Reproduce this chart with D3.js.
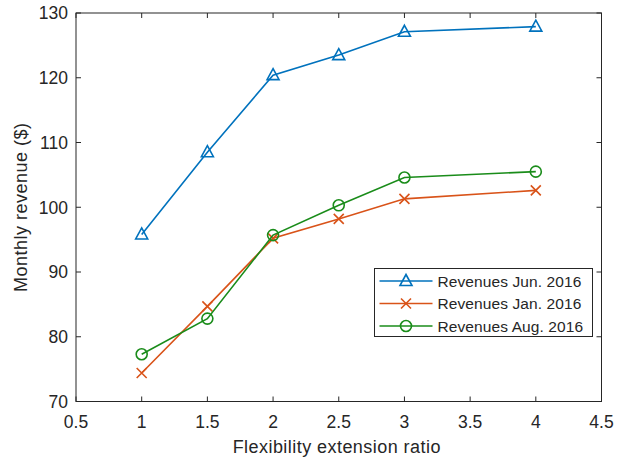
<!DOCTYPE html>
<html>
<head>
<meta charset="utf-8">
<title>Monthly revenue vs flexibility extension ratio</title>
<script src="https://d3js.org/d3.v7.min.js"></script>
<style>
  body { margin: 0; padding: 0; background: #fff; }
  text { font-family: "Liberation Sans", Arial, sans-serif; fill: #262626; }
</style>
</head>
<body>
<div id="chart"></div>
<script>
// data
var ratios = [1, 1.5, 2, 2.5, 3, 4];
var revJun = [95.8, 108.5, 120.4, 123.5, 127.1, 127.9];
var revJan = [74.4, 84.7, 95.2, 98.2, 101.3, 102.6];
var revAug = [77.3, 82.8, 95.7, 100.3, 104.6, 105.5];
var seriesNames = ["Revenues Jun. 2016", "Revenues Jan. 2016", "Revenues Aug. 2016"];
var xTicks = [0.5, 1, 1.5, 2, 2.5, 3, 3.5, 4, 4.5];
var yTicks = [70, 80, 90, 100, 110, 120, 130];

var width = 624, height = 458;
var margin = {top: 13, right: 22.5, bottom: 56.5, left: 76};

var svg = d3.select("#chart").append("svg")
  .attr("width", width)
  .attr("height", height);

var x = d3.scaleLinear().domain([0.5, 4.5]).range([margin.left, width - margin.right]);
var y = d3.scaleLinear().domain([70, 130]).range([height - margin.bottom, margin.top]);

var axisColor = "#262626";

// box
svg.append("rect")
  .attr("x", x(0.5)).attr("y", y(130))
  .attr("width", x(4.5) - x(0.5)).attr("height", y(70) - y(130))
  .attr("fill", "none").attr("stroke", axisColor).attr("stroke-width", 1);

// ticks (inside, on all four sides)
var tl = 5;
var g = svg.append("g").attr("stroke", axisColor).attr("stroke-width", 1);
xTicks.forEach(function(t) {
  g.append("line").attr("x1", x(t)).attr("x2", x(t)).attr("y1", y(70)).attr("y2", y(70) - tl);
  g.append("line").attr("x1", x(t)).attr("x2", x(t)).attr("y1", y(130)).attr("y2", y(130) + tl);
});
yTicks.forEach(function(t) {
  g.append("line").attr("x1", x(0.5)).attr("x2", x(0.5) + tl).attr("y1", y(t)).attr("y2", y(t));
  g.append("line").attr("x1", x(4.5)).attr("x2", x(4.5) - tl).attr("y1", y(t)).attr("y2", y(t));
});

// tick labels
svg.selectAll(".xt").data(xTicks).enter().append("text")
  .attr("x", function(d) { return x(d); })
  .attr("y", y(70) + 26.5)
  .attr("text-anchor", "middle")
  .style("font-size", "17.5px")
  .text(function(d) { return d; });
svg.selectAll(".yt").data(yTicks).enter().append("text")
  .attr("x", x(0.5) - 8)
  .attr("y", function(d) { return y(d); })
  .attr("dy", "0.36em")
  .attr("text-anchor", "end")
  .style("font-size", "17.5px")
  .text(function(d) { return d; });

// axis labels
svg.append("text")
  .attr("x", (x(0.5) + x(4.5)) / 2 - 2)
  .attr("y", 453)
  .attr("text-anchor", "middle")
  .style("font-size", "18px")
  .style("letter-spacing", "0.45px")
  .text("Flexibility extension ratio");
svg.append("text")
  .attr("transform", "translate(27," + ((y(70) + y(130)) / 2) + ") rotate(-90)")
  .attr("text-anchor", "middle")
  .style("font-size", "18px")
  .style("letter-spacing", "0.5px")
  .text("Monthly revenue ($)");

var colors = ["#0072BD", "#D95319", "#1a8c1a"];
var allSeries = [revJun, revJan, revAug];
var shapes = ["triangle", "cross", "circle"];

function drawMarker(sel, shape, cx, cy, color) {
  if (shape === "triangle") {
    sel.append("path")
      .attr("d", "M" + cx + "," + (cy - 6.5) + "L" + (cx + 6) + "," + (cy + 4.5) + "L" + (cx - 6) + "," + (cy + 4.5) + "Z")
      .attr("fill", "none").attr("stroke", color).attr("stroke-width", 1.6);
  } else if (shape === "cross") {
    var s = 5;
    sel.append("path")
      .attr("d", "M" + (cx - s) + "," + (cy - s) + "L" + (cx + s) + "," + (cy + s) + "M" + (cx - s) + "," + (cy + s) + "L" + (cx + s) + "," + (cy - s))
      .attr("fill", "none").attr("stroke", color).attr("stroke-width", 1.6);
  } else {
    sel.append("circle").attr("cx", cx).attr("cy", cy).attr("r", 5.5)
      .attr("fill", "none").attr("stroke", color).attr("stroke-width", 1.6);
  }
}

var line = d3.line()
  .x(function(d, i) { return x(ratios[i]); })
  .y(function(d) { return y(d); });

allSeries.forEach(function(vals, k) {
  svg.append("path")
    .datum(vals)
    .attr("d", line)
    .attr("fill", "none")
    .attr("stroke", colors[k])
    .attr("stroke-width", 1.6);
  var mg = svg.append("g");
  vals.forEach(function(v, i) {
    drawMarker(mg, shapes[k], x(ratios[i]), y(v), colors[k]);
  });
});

// legend
var lg = svg.append("g").attr("transform", "translate(374.5,268.5)");
lg.append("rect").attr("width", 218).attr("height", 68)
  .attr("fill", "#fff").attr("stroke", axisColor).attr("stroke-width", 1);
seriesNames.forEach(function(name, k) {
  var ly = 12.5 + k * 22.5;
  lg.append("line").attr("x1", 5).attr("x2", 58).attr("y1", ly).attr("y2", ly)
    .attr("stroke", colors[k]).attr("stroke-width", 1.6);
  drawMarker(lg, shapes[k], 31.5, ly, colors[k]);
  lg.append("text").attr("x", 63).attr("y", ly).attr("dy", "0.36em")
    .style("font-size", "15.5px")
    .style("letter-spacing", "0.1px")
    .text(name);
});
</script>
</body>
</html>
